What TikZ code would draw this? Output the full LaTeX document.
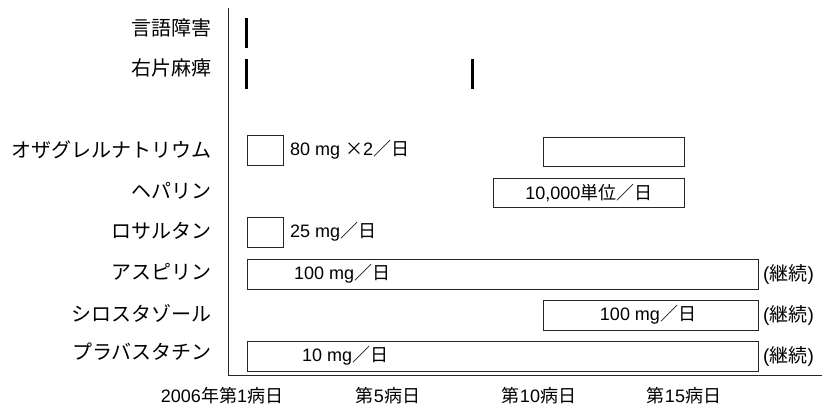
\documentclass[tikz,border=0pt]{standalone}
\usepackage{fontspec}
\setmainfont{Liberation Sans}
\newfontfamily\cjk{Noto Sans CJK JP}
\newcommand{\jtext}[1]{{\cjk #1}}
\begin{document}
\begin{tikzpicture}[x=1pt,y=-1pt,
  rowlabel/.style={anchor=east, inner sep=0pt, font=\cjk\fontsize{20}{24}\selectfont},
  dosebox/.style={draw=black!85, line width=0.8pt, inner sep=0pt, anchor=north west},
  dosetext/.style={inner sep=0pt, font=\fontsize{18}{21}\selectfont},
  conttext/.style={inner sep=0pt, anchor=west, font=\fontsize{19}{22}\selectfont},
  axlabel/.style={inner sep=0pt, font=\fontsize{18}{21}\selectfont},
  symbar/.style={fill=black, draw=none, inner sep=0pt, minimum width=3pt, minimum height=30pt, anchor=north},
  axisline/.style={draw=black!85, line width=1pt}
]
\useasboundingbox (0,0) rectangle (822,414);

% axes
\coordinate (top) at (228.5,8);
\coordinate (origin) at (228.5,375);
\coordinate (xend) at (822,375);
\draw[axisline] (top) -- (origin) -- (xend);

% row labels
\node[rowlabel] (l1) at (212,28) {言語障害};
\node[rowlabel] (l2) at (212,68) {右片麻痺};
\node[rowlabel] (l3) at (212,150) {オザグレルナトリウム};
\node[rowlabel] (l4) at (212,191) {ヘパリン};
\node[rowlabel] (l5) at (212,231) {ロサルタン};
\node[rowlabel] (l6) at (212,272) {アスピリン};
\node[rowlabel] (l7) at (212,313) {シロスタゾール};
\node[rowlabel] (l8) at (212,352) {プラバスタチン};

% symptom bars
\node[symbar] (b1) at (246.5,18) {};
\node[symbar] (b2) at (246.5,59) {};
\node[symbar] (b3) at (472.7,59) {};

% dose boxes
\node[dosebox, minimum width=36pt, minimum height=30pt] (oza1) at (246.7,135) {};
\node[dosebox, minimum width=141.3pt, minimum height=29pt] (oza2) at (542.7,137) {};
\node[dosebox, minimum width=191pt, minimum height=29pt] (hep) at (493,178) {};
\node[dosebox, minimum width=36pt, minimum height=30pt] (los) at (246.7,217) {};
\node[dosebox, minimum width=511.3pt, minimum height=30pt] (asp) at (246.7,259) {};
\node[dosebox, minimum width=215.3pt, minimum height=30pt] (cil) at (542.7,300) {};
\node[dosebox, minimum width=511.3pt, minimum height=30pt] (pra) at (246.7,341) {};

% dose texts
\node[dosetext, anchor=west] (t1) at (290,150) {80 mg \jtext{×}2\jtext{／日}};
\node[dosetext] (t2) at (hep.center) {10,000\jtext{単位／日}};
\node[dosetext, anchor=west] (t3) at (290,232) {25 mg\jtext{／日}};
\node[dosetext, anchor=west] (t4) at (294,274) {100 mg\jtext{／日}};
\node[dosetext] (t5) at (648,315) {100 mg\jtext{／日}};
\node[dosetext, anchor=west] (t6) at (302,356) {10 mg\jtext{／日}};

% continued
\node[conttext] (c1) at (763,274) {(\jtext{継続})};
\node[conttext] (c2) at (763,315) {(\jtext{継続})};
\node[conttext] (c3) at (763,356) {(\jtext{継続})};

% axis labels
\node[axlabel] (d1) at (222,396) {2006\jtext{年第}1\jtext{病日}};
\node[axlabel] (d5) at (388,396) {\jtext{第}5\jtext{病日}};
\node[axlabel] (d10) at (539,396) {\jtext{第}10\jtext{病日}};
\node[axlabel] (d15) at (684,396) {\jtext{第}15\jtext{病日}};
\end{tikzpicture}
\end{document}
